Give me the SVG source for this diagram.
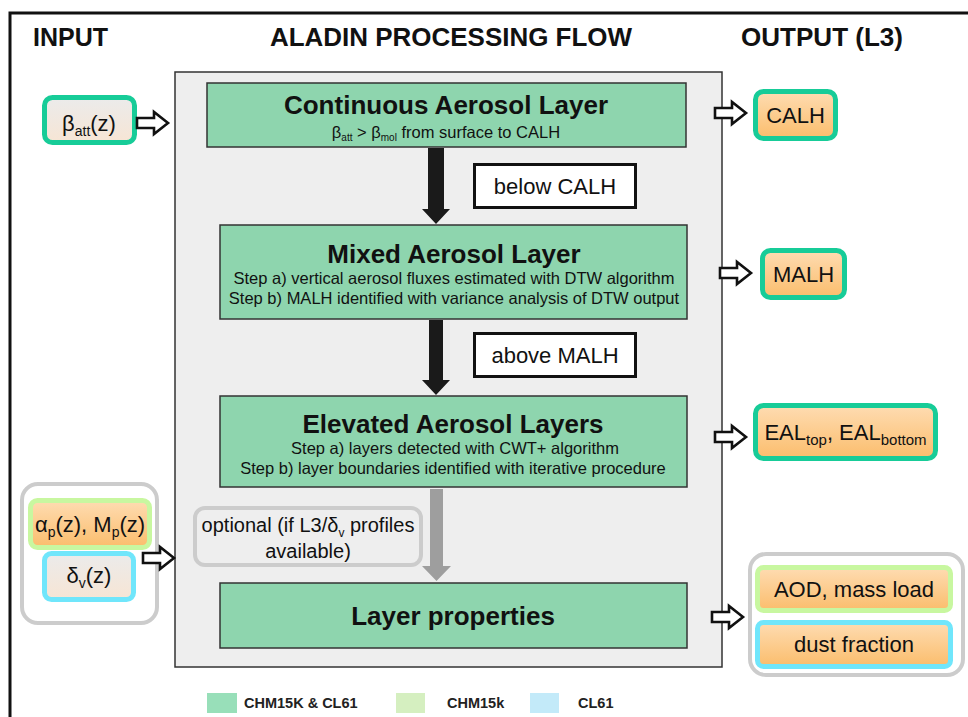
<svg xmlns="http://www.w3.org/2000/svg" width="968" height="717" viewBox="0 0 968 717">
<defs>
<linearGradient id="gOrange" x1="0" y1="0" x2="0" y2="1"><stop offset="0" stop-color="#fedcb2"/><stop offset="1" stop-color="#fbbd6c"/></linearGradient>
<linearGradient id="gPeach" x1="0" y1="0" x2="0" y2="1"><stop offset="0" stop-color="#ebebeb"/><stop offset="1" stop-color="#f7e5d4"/></linearGradient>
<path id="hollow" d="M0,-5 H17 V-11 L31,0 L17,11 V5 H0 Z" fill="#fff" stroke="#111" stroke-width="2.6" stroke-linejoin="miter"/>
</defs>
<style>
.hdr{font-family:"Liberation Sans",Arial,sans-serif;font-weight:bold;font-size:25px;fill:#111}
.title{font-family:"Liberation Sans",Arial,sans-serif;font-weight:bold;font-size:26px;fill:#111;text-anchor:middle}
.sub{font-family:"Liberation Sans",Arial,sans-serif;font-size:16.5px;fill:#111;text-anchor:middle}
.lbl{font-family:"Liberation Sans",Arial,sans-serif;font-size:22px;fill:#111;text-anchor:middle}
.opt{font-family:"Liberation Sans",Arial,sans-serif;font-size:20px;fill:#111;text-anchor:middle}
.leg{font-family:"Liberation Sans",Arial,sans-serif;font-weight:bold;font-size:14.5px;fill:#222}
.proc{fill:#8ed5ae;stroke:#333;stroke-width:1.5}
.cond{fill:#fff;stroke:#111;stroke-width:3}
.outT{fill:url(#gOrange);stroke:#17cc98;stroke-width:5}
.grp{fill:#fff;stroke:#cccccc;stroke-width:4}
</style>
<rect width="968" height="717" fill="#fff"/>
<path d="M10,717 V13 H968" fill="none" stroke="#111" stroke-width="3"/>
<text class="hdr" x="33" y="46">INPUT</text>
<text class="hdr" x="270" y="46" textLength="362" lengthAdjust="spacingAndGlyphs">ALADIN PROCESSING FLOW</text>
<text class="hdr" x="741" y="46" textLength="162" lengthAdjust="spacingAndGlyphs">OUTPUT (L3)</text>
<rect id="panel" x="175" y="72" width="547" height="595" fill="#eeeeee" stroke="#333" stroke-width="1.5"/>
<g id="continuous">
<rect class="proc" x="207" y="83" width="479" height="64"/>
<text class="title" x="446" y="114">Continuous Aerosol Layer</text>
<text class="sub" x="446" y="138" font-size="16">β<tspan font-size="10" dy="3">att</tspan><tspan dy="-3"> &gt; β</tspan><tspan font-size="10" dy="3">mol</tspan><tspan dy="-3"> from surface to CALH</tspan></text>
</g>
<g id="belowCALH">
<rect class="cond" x="474.5" y="164.5" width="161" height="43"/>
<text class="lbl" x="555" y="194">below CALH</text>
</g>
<g id="mixed">
<rect class="proc" x="220" y="225" width="467" height="94"/>
<text class="title" x="454" y="263">Mixed Aerosol Layer</text>
<text class="sub" x="454" y="284">Step a) vertical aerosol fluxes estimated with DTW algorithm</text>
<text class="sub" x="454" y="304">Step b) MALH identified with variance analysis of DTW output</text>
</g>
<g id="aboveMALH">
<rect class="cond" x="474.5" y="333.5" width="161" height="43"/>
<text class="lbl" x="555" y="363">above MALH</text>
</g>
<g id="elevated">
<rect class="proc" x="220" y="396" width="467" height="91"/>
<text class="title" x="453" y="433">Elevated Aerosol Layers</text>
<text class="sub" x="455" y="454">Step a) layers detected with CWT+ algorithm</text>
<text class="sub" x="453" y="474">Step b) layer boundaries identified with iterative procedure</text>
</g>
<g id="optional">
<rect x="195" y="508" width="226" height="57" rx="10" fill="#eeeeee" stroke="#cccccc" stroke-width="4"/>
<text class="opt" x="308" y="532">optional (if L3/δ<tspan font-size="12" dy="5">v</tspan><tspan dy="-5"> profiles</tspan></text>
<text class="opt" x="308" y="558">available)</text>
</g>
<g id="properties">
<rect class="proc" x="220" y="583" width="467" height="65"/>
<text class="title" x="453" y="625">Layer properties</text>
</g>
<g id="inBeta">
<rect x="44.5" y="97.5" width="90" height="45" rx="8" fill="url(#gPeach)" stroke="#17cc98" stroke-width="5"/>
<text class="lbl" x="89" y="131">β<tspan font-size="14" dy="5">att</tspan><tspan dy="-5">(z)</tspan></text>
</g>
<g id="inGroup">
<rect class="grp" x="22" y="484" width="135" height="139" rx="16"/>
<rect x="30.5" y="500.5" width="119" height="47" rx="7" fill="url(#gOrange)" stroke="#c8f7a0" stroke-width="5"/>
<text class="lbl" x="90" y="532">α<tspan font-size="14" dy="5">p</tspan><tspan dy="-5">(z), M</tspan><tspan font-size="14" dy="5">p</tspan><tspan dy="-5">(z)</tspan></text>
<rect x="44.5" y="553.5" width="89" height="46" rx="7" fill="url(#gPeach)" stroke="#70e6fb" stroke-width="5"/>
<text class="lbl" x="89" y="583">δ<tspan font-size="14" dy="5">v</tspan><tspan dy="-5">(z)</tspan></text>
</g>
<g id="outCALH">
<rect class="outT" x="755.5" y="91.5" width="80" height="47" rx="8"/>
<text class="lbl" x="795.5" y="123">CALH</text>
</g>
<g id="outMALH">
<rect class="outT" x="762.5" y="250.5" width="82" height="47" rx="8"/>
<text class="lbl" x="803.5" y="282">MALH</text>
</g>
<g id="outEAL">
<rect class="outT" x="755.5" y="405.5" width="180" height="53" rx="8"/>
<text class="lbl" x="845.5" y="440">EAL<tspan font-size="15" dy="5">top</tspan><tspan dy="-5">, EAL</tspan><tspan font-size="15" dy="5">bottom</tspan></text>
</g>
<g id="outGroup">
<rect class="grp" x="750" y="554" width="213" height="121" rx="16"/>
<rect x="757.5" y="567.5" width="193" height="43" rx="6" fill="url(#gOrange)" stroke="#c8f7a0" stroke-width="5"/>
<text class="lbl" x="854" y="597">AOD, mass load</text>
<rect x="757.5" y="622.5" width="193" height="44" rx="6" fill="url(#gOrange)" stroke="#70e6fb" stroke-width="5"/>
<text class="lbl" x="854" y="652">dust fraction</text>
</g>
<g id="connectors">
<path d="M428,148 H444 V209 H450 L436,224 L422,209 H428 Z" fill="#1a1a1a"/>
<path d="M429,320 H443 V380 H450 L436,395 L422,380 H429 Z" fill="#1a1a1a"/>
<path d="M430,489 H443 V566 H451 L436.5,581 L422,566 H430 Z" fill="#9e9e9e"/>
<use href="#hollow" x="137" y="123"/>
<use href="#hollow" x="143" y="558"/>
<use href="#hollow" x="715" y="113"/>
<use href="#hollow" x="720" y="273"/>
<use href="#hollow" x="715" y="437"/>
<use href="#hollow" x="712" y="617"/>
</g>
<g id="legend">
<rect x="207" y="693" width="30" height="20" fill="#98dfb9"/>
<text class="leg" x="244" y="708">CHM15K &amp; CL61</text>
<rect x="396" y="693" width="29" height="20" fill="#d5efc0"/>
<text class="leg" x="447" y="708">CHM15k</text>
<rect x="530" y="693" width="29" height="20" fill="#c3eaf9"/>
<text class="leg" x="578" y="708">CL61</text>
</g>
</svg>
